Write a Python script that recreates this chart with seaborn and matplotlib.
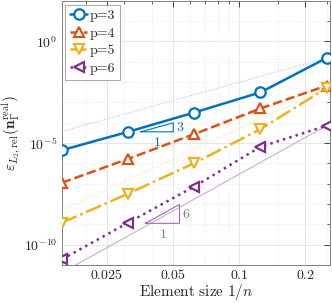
import numpy as np
import pandas as pd
import matplotlib
matplotlib.use("Agg")
import matplotlib.pyplot as plt
import seaborn as sns
from matplotlib.ticker import FixedLocator, NullFormatter

# ---- data ----
h = [1/64, 1/32, 1/16, 1/8, 1/4]
err_p3 = [10**-5.35, 10**-4.45, 10**-3.50, 10**-2.51, 10**-0.82]
err_p4 = [10**-6.95, 10**-5.78, 10**-4.56, 10**-3.30, 10**-2.18]
err_p5 = [10**-8.92, 10**-7.49, 10**-5.99, 10**-4.32, 10**-2.30]
err_p6 = [10**-10.72, 10**-8.92, 10**-7.14, 10**-5.19, 10**-4.15]
orders = [3, 4, 5, 6]
labels = ["p=3", "p=4", "p=5", "p=6"]
xtick_vals = [0.025, 0.05, 0.1, 0.2]
xtick_labels = ["0.025", "0.05", "0.1", "0.2"]
ytick_vals = [1e0, 1e-5, 1e-10]
ytick_labels = [r"$10^{0}$", r"$10^{-5}$", r"$10^{-10}$"]

series = [err_p3, err_p4, err_p5, err_p6]
colors = ["#0072BD", "#D95319", "#EDB120", "#7E2F8E"]
light = ["#8EC3EA", "#F2B08F", "#F8DC96", "#C9A0D2"]
markers = ["o", "^", "v", "<"]
styles = ["-", "--", "-.", ":"]
ref_styles = [":", ":", ":", "-"]

sns.set_theme(style="white")
plt.rcParams["mathtext.fontset"] = "cm"
plt.rcParams["font.family"] = ["DejaVu Serif"]

fig = plt.figure(figsize=(3.32, 3.03), dpi=100)
ax = fig.add_axes([0.1867, 0.1254, 0.807, 0.871])
ax.set_xscale("log")
ax.set_yscale("log")

# reference slope lines through last point
for i, (e, p) in enumerate(zip(series, orders)):
    xr = np.array(h)
    yr = e[-1] * (xr / h[-1]) ** p
    sns.lineplot(x=xr, y=yr, ax=ax, color=light[i], linestyle=ref_styles[i],
                 linewidth=0.7, legend=False, zorder=1)

for i, e in enumerate(series):
    df = pd.DataFrame({"h": h, "e": e})
    sns.lineplot(data=df, x="h", y="e", ax=ax, color=colors[i], linestyle=styles[i],
                 linewidth=1.8, marker=markers[i], markersize=7.5,
                 markerfacecolor="white", markeredgecolor=colors[i],
                 markeredgewidth=1.6, label=labels[i], zorder=3)

# slope triangles
def slope_tri(x0, y0, dx_oct, p, col, lab_top, lab_bot):
    x1 = x0 * 2 ** dx_oct
    y1 = y0 * (x1 / x0) ** p
    ax.plot([x0, x1, x1, x0], [y0, y1, y0, y0], color=col, linewidth=0.8, zorder=2)
    ax.text(x1 * 1.03, np.sqrt(y0 * y1), lab_top, color=col, fontsize=10,
            ha="left", va="center")
    ax.text(np.sqrt(x0 * x1), y0 / 1.5, lab_bot, color=col, fontsize=10,
            ha="center", va="top")

slope_tri(0.0357, 10**-4.45, 0.49, 3, colors[0], r"$3$", r"$1$")
slope_tri(0.0375, 10**-8.95, 0.514, 6, "#A466B4", r"$6$", r"$1$")

ax.set_xlim(1/64, 0.259)
ax.set_ylim(1e-11, 10**1.98)

ax.xaxis.set_major_locator(FixedLocator(xtick_vals))
ax.set_xticklabels([r"$" + t + "$" for t in xtick_labels])
ax.xaxis.set_minor_locator(FixedLocator([0.02, 0.03, 0.04, 0.06, 0.07, 0.08, 0.09, 0.15, 0.25]))
ax.xaxis.set_minor_formatter(NullFormatter())
ax.yaxis.set_major_locator(FixedLocator(ytick_vals))
ax.set_yticklabels(ytick_labels)
ax.yaxis.set_minor_locator(FixedLocator([10.0**k for k in range(-11, 3)]))
ax.yaxis.set_minor_formatter(NullFormatter())

ax.tick_params(axis="x", which="major", pad=2)
ax.tick_params(axis="both", which="major", direction="in", length=4, width=0.6,
               labelsize=10, colors="#262626", top=True, right=True)
ax.tick_params(axis="both", which="minor", direction="in", length=2, width=0.5,
               top=True, right=True)

ax.grid(True, which="major", color="#E3E3E3", linewidth=0.6, linestyle="-")
ax.grid(True, which="minor", color="#E6E6E6", linewidth=0.5, linestyle=(0, (2, 2)))
ax.set_axisbelow(True)
for s in ax.spines.values():
    s.set_color("#808080")
    s.set_linewidth(0.7)

ax.set_xlabel(r"$\mathrm{Element\ size}\ 1/n$", fontsize=11, color="#262626", labelpad=0)
ax.set_ylabel(r"$\varepsilon_{L_2,\mathrm{rel}}(\mathbf{n}_\Gamma^{\mathrm{real}})$",
              fontsize=11, color="#262626", labelpad=1)

leg = ax.legend(loc="upper left", prop={"family": "cmr10", "size": 10}, frameon=True,
                fancybox=False, edgecolor="#808080", handlelength=1.2, handletextpad=0.2,
                borderpad=0.35, labelspacing=0.35, borderaxespad=0.25)
leg.get_frame().set_linewidth(0.6)

fig.savefig("out.png", dpi=100)
